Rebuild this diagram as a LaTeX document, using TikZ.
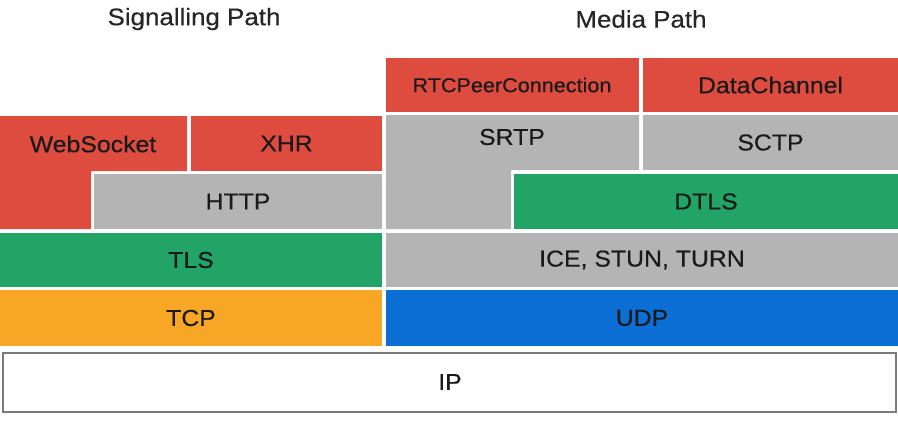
\documentclass[tikz,border=0pt]{standalone}
\usepackage{fontspec}
\setmainfont{Liberation Sans}[FakeStretch=1.08,FakeBold=0.4]
\definecolor{cRed}{HTML}{DD4C3F}
\definecolor{cGray}{HTML}{B4B4B4}
\definecolor{cGreen}{HTML}{21A465}
\definecolor{cOrange}{HTML}{F8A626}
\definecolor{cBlue}{HTML}{0B6FD6}
\definecolor{cText}{HTML}{1A1A1A}
\definecolor{cBorder}{HTML}{7A7A7A}
\tikzset{
  lbl/.style={text=cText, inner sep=0pt, font=\fontsize{23}{27}\selectfont},
  smalllbl/.style={lbl, font=\fontsize{20}{24}\selectfont},
  titlelbl/.style={lbl, font=\fontsize{24}{28}\selectfont, text=black!85},
}
\newcommand\layerbox[7]{%
  \fill[#2] (#3,#4) rectangle (#5,#6);
  \node[lbl] (#1) at ({(#3+#5)/2},{(#4+#6)/2}) {#7};}
\begin{document}
\begin{tikzpicture}[x=1pt,y=-1pt]
\useasboundingbox (0,0) rectangle (898,423);
% titles
\node[titlelbl] (tsig) at (194,19) {Signalling Path};
\node[titlelbl] (tmed) at (641,19) {Media Path};
% signalling path
\fill[cRed] (0,116) -- (187,116) -- (187,171) -- (91,171) -- (91,229) -- (0,229) -- cycle;
\node[lbl] (ws) at (93,144) {WebSocket};
\layerbox{xhr}{cRed}{191}{116}{382}{171}{XHR}
\layerbox{http}{cGray}{94}{174}{382}{229}{HTTP}
\layerbox{tls}{cGreen}{0}{233}{382}{287}{TLS}
\layerbox{tcp}{cOrange}{0}{290}{382}{346}{TCP}
% media path
\fill[cRed] (386,58) rectangle (639,112);
\node[smalllbl] (rtc) at (512,85) {RTCPeerConnection};
\layerbox{dc}{cRed}{643}{58}{898}{112}{DataChannel}
\fill[cGray] (386,115) -- (639,115) -- (639,170) -- (511,170) -- (511,229) -- (386,229) -- cycle;
\node[lbl] (srtp) at (512,137) {SRTP};
\layerbox{sctp}{cGray}{643}{115}{898}{170}{SCTP}
\layerbox{dtls}{cGreen}{514}{174}{898}{229}{DTLS}
\layerbox{ice}{cGray}{386}{233}{898}{287}{ICE, STUN, TURN}
\layerbox{udp}{cBlue}{386}{290}{898}{346}{UDP}
% IP
\draw[cBorder, line width=1.6pt, fill=white] (3,353) rectangle (896,412);
\node[lbl] (ip) at (450,382) {IP};
\end{tikzpicture}
\end{document}
